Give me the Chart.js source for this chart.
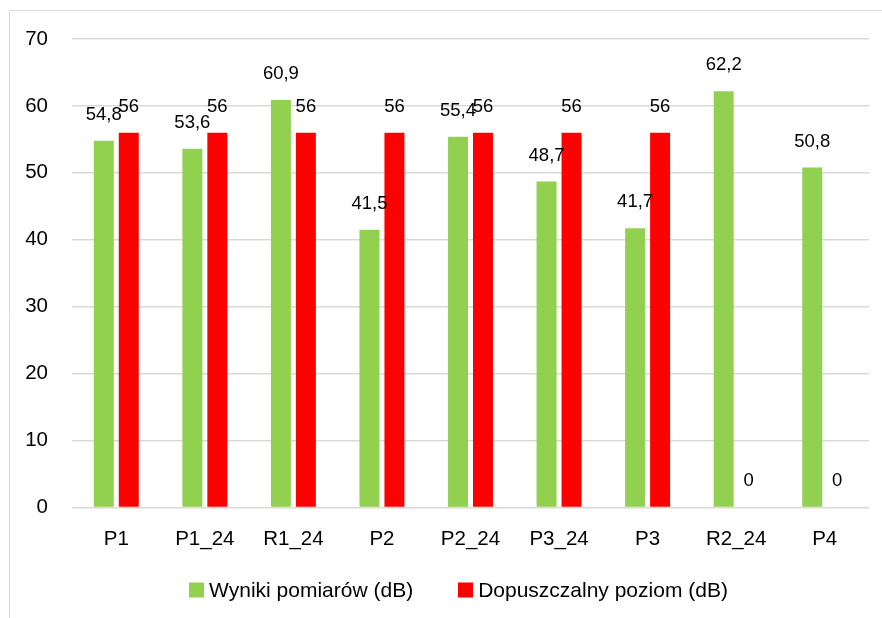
<!DOCTYPE html>
<html>
<head>
<meta charset="utf-8">
<script src="https://cdn.jsdelivr.net/npm/chart.js@4/dist/chart.umd.min.js"></script>
<style>
  html, body { margin: 0; padding: 0; background: #fff; }
  #wrap { width: 882px; height: 618px; }
</style>
</head>
<body>
<div id="wrap"><canvas id="chart" width="882" height="618"></canvas></div>
<script>
// data
var categories = ["P1", "P1_24", "R1_24", "P2", "P2_24", "P3_24", "P3", "R2_24", "P4"];
var measured = [54.8, 53.6, 60.9, 41.5, 55.4, 48.7, 41.7, 62.2, 50.8];
var allowed = [56, 56, 56, 56, 56, 56, 56, 0, 0];
var yTicks = [0, 10, 20, 30, 40, 50, 60, 70];

var font = "'Liberation Sans', Arial, sans-serif";

// labels above each bar, with a comma for decimals
var barLabels = {
  id: "barLabels",
  afterDatasetsDraw: function(chart) {
    var ctx = chart.ctx;
    ctx.save();
    ctx.font = "18.5px " + font;
    ctx.fillStyle = "#000";
    ctx.textAlign = "center";
    ctx.textBaseline = "middle";
    chart.data.datasets.forEach(function(ds, i) {
      var meta = chart.getDatasetMeta(i);
      meta.data.forEach(function(bar, j) {
        var txt = String(ds.data[j]).replace(".", ",");
        ctx.fillText(txt, bar.x, bar.y - 26);
      });
    });
    ctx.restore();
  }
};

// legend under the chart, Excel style (small square, tight gap)
var bottomLegend = {
  id: "bottomLegend",
  afterDraw: function(chart) {
    var ctx = chart.ctx;
    var dss = chart.data.datasets;
    ctx.save();
    ctx.font = "21px " + font;
    ctx.textBaseline = "middle";
    ctx.textAlign = "left";
    var box = 15, gap = 5, itemGap = 45;
    var total = 0;
    dss.forEach(function(ds, i) {
      total += box + gap + ctx.measureText(ds.label).width;
      if (i > 0) total += itemGap;
    });
    var x = 458.5 - total / 2;
    var cy = 590;
    dss.forEach(function(ds) {
      ctx.fillStyle = ds.backgroundColor;
      ctx.fillRect(Math.round(x), cy - 7.5, box, box);
      ctx.fillStyle = "#000";
      ctx.fillText(ds.label, x + box + gap, cy + 1);
      x += box + gap + ctx.measureText(ds.label).width + itemGap;
    });
    ctx.restore();
  }
};

// outer frame of the chart (only top and left edges visible)
var frame = {
  id: "frame",
  beforeDraw: function(chart) {
    var ctx = chart.ctx;
    ctx.save();
    ctx.strokeStyle = "#d9d9d9";
    ctx.lineWidth = 1;
    ctx.beginPath();
    ctx.moveTo(9.5, 700);
    ctx.lineTo(9.5, 10.5);
    ctx.lineTo(900, 10.5);
    ctx.stroke();
    ctx.restore();
  }
};

new Chart(document.getElementById("chart"), {
  type: "bar",
  data: {
    labels: categories,
    datasets: [{
      label: "Wyniki pomiarów (dB)",
      data: measured,
      backgroundColor: "#92D050",
      categoryPercentage: 0.564,
      barPercentage: 0.8
    }, {
      label: "Dopuszczalny poziom (dB)",
      data: allowed,
      backgroundColor: "#FF0000",
      categoryPercentage: 0.564,
      barPercentage: 0.8
    }]
  },
  options: {
    responsive: false,
    animation: false,
    layout: { padding: { top: 39, right: 13, left: 0, bottom: 46 } },
    scales: {
      x: {
        grid: { display: false, drawTicks: false },
        border: { display: false },
        ticks: { color: "#000", font: { size: 20.5, family: font }, padding: 20 }
      },
      y: {
        min: 0,
        max: 70,
        afterBuildTicks: function(scale) {
          scale.ticks = yTicks.map(function(v) { return { value: v }; });
        },
        afterFit: function(scale) { scale.width = 72; },
        grid: { color: "#d9d9d9", lineWidth: 1.5, drawTicks: false },
        border: { display: false },
        ticks: { color: "#000", font: { size: 20.5, family: font }, padding: 24 }
      }
    },
    plugins: {
      legend: { display: false },
      tooltip: { enabled: false }
    }
  },
  plugins: [barLabels, bottomLegend, frame]
});
</script>
</body>
</html>
